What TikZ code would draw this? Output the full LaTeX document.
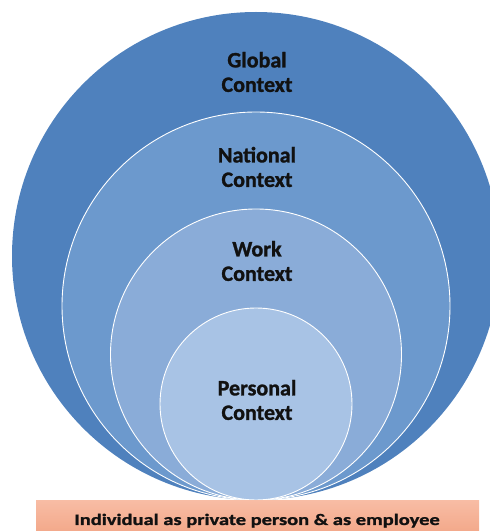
\documentclass[tikz,border=0pt]{standalone}
\usepackage{fontspec}
\setmainfont{Carlito}[BoldFont={Carlito Bold}, BoldFeatures={FakeBold=1.2}]
\usetikzlibrary{shapes.geometric}
\definecolor{cGlobal}{HTML}{4F81BD}
\definecolor{cNational}{HTML}{6C99CD}
\definecolor{cWork}{HTML}{8AACD8}
\definecolor{cPersonal}{HTML}{A8C3E5}
\definecolor{cRectTop}{HTML}{F8BCA4}
\definecolor{cRectBot}{HTML}{F3A98B}
\definecolor{cText}{HTML}{111111}
\tikzset{
  ring/.style={circle, draw=white, line width=0.9pt, inner sep=0pt, minimum size=#1},
  ctxlabel/.style={align=center, font=\fontsize{22}{24.5}\selectfont\bfseries, text=cText, inner sep=0pt},
}
\begin{document}
\begin{tikzpicture}[x=1pt,y=1pt]
\useasboundingbox (0,0) rectangle (490,531);
\begin{scope}
\clip (0,0) rectangle (490,531);
\node[ring=488pt, fill=cGlobal, draw=none] (global) at (256,275) {};
\node[ring=388pt, fill=cNational] (national) at (256,225) {};
\node[ring=291pt, fill=cWork] (work) at (256,176.5) {};
\node[ring=192pt, fill=cPersonal] (personal) at (256,127) {};
\node[ctxlabel] (lglobal) at (257,459) {Global\\Context};
\node[ctxlabel] (lnational) at (257,364) {National\\Context};
\node[ctxlabel] (lwork) at (257,270) {Work\\Context};
\node[ctxlabel] (lpersonal) at (257,131) {Personal\\Context};
\shade[top color=cRectTop, bottom color=cRectBot] (36,0) rectangle (479,30);
\node (rect) at (257.5,15) [minimum width=443pt, minimum height=30pt, inner sep=0pt] {};
\node[anchor=base, inner sep=0pt, text=cText, font=\fontsize{16}{18}\selectfont\bfseries] (ltext) at (257,6) {\scalebox{1.28}[1]{Individual as private person \& as employee}};
\end{scope}
\end{tikzpicture}
\end{document}
